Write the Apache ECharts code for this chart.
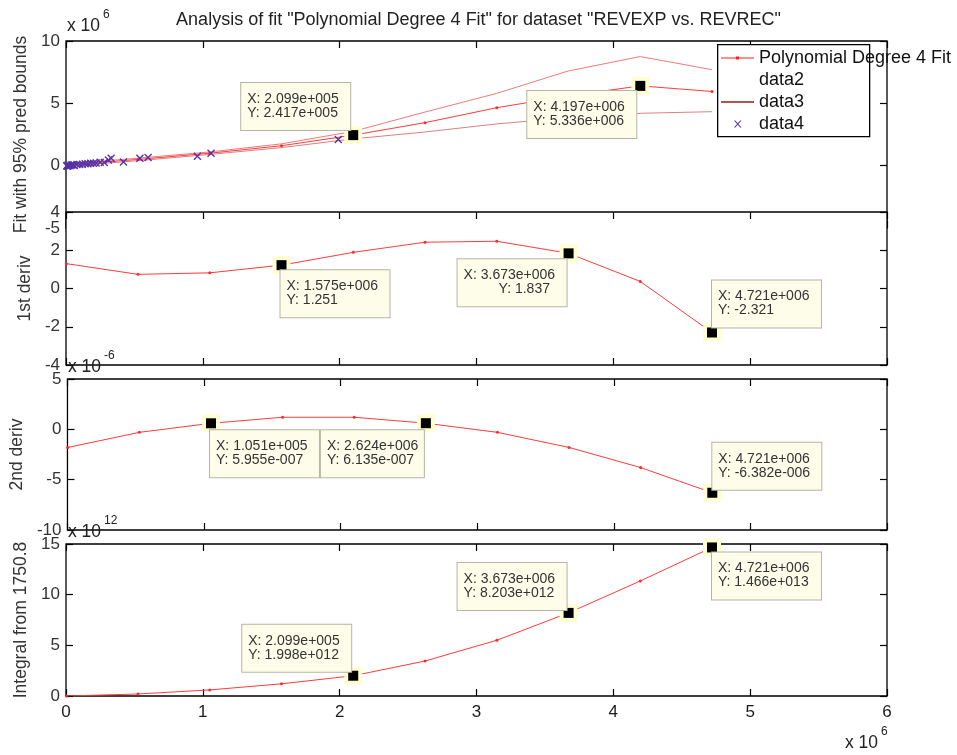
<!DOCTYPE html>
<html><head><meta charset="utf-8">
<script src="https://cdn.jsdelivr.net/npm/echarts@6/dist/echarts.min.js"></script>
<style>html,body{margin:0;padding:0;background:#fff}#c{width:957px;height:755px}</style>
</head><body><div id="c"></div>
<script>
// ---------- data (x in units of 1e6) ----------
const xTicks = [0, 1, 2, 3, 4, 5, 6];
const xEval  = [0.0018, 0.5262, 1.0505, 1.5749, 2.0993, 2.6236, 3.1480, 3.6723, 4.1967, 4.7211];
// panel 1: fit with 95% prediction bounds (units 1e6)
const fitY   = [0.05, 0.50, 1.00, 1.60, 2.45, 3.45, 4.65, 5.60, 6.40, 5.95];
const upperY = [0.15, 0.60, 1.10, 1.75, 2.75, 4.30, 5.80, 7.60, 8.75, 7.70];
const lowerY = [-0.05, 0.40, 0.90, 1.45, 2.15, 2.70, 3.35, 3.85, 4.20, 4.33];
// observed points (data4)
const obsX = [0.005, 0.01, 0.015, 0.02, 0.03, 0.04, 0.05, 0.06, 0.08, 0.10, 0.12, 0.14, 0.16, 0.18, 0.20, 0.22, 0.25, 0.28, 0.31, 0.33, 0.42, 0.54, 0.60, 0.96, 1.06, 1.99];
const obsY = [0.00, -0.05, 0.05, 0.02, 0.00, 0.05, 0.08, 0.02, 0.10, 0.10, 0.12, 0.15, 0.15, 0.20, 0.20, 0.22, 0.28, 0.25, 0.45, 0.60, 0.30, 0.60, 0.65, 0.75, 1.00, 2.10];
// panel 2: 1st derivative
const d1Y = [1.30, 0.74, 0.82, 1.22, 1.89, 2.42, 2.47, 1.84, 0.37, -2.30];
// panel 3: 2nd derivative (units 1e-6)
const d2Y = [-1.80, -0.30, 0.60, 1.20, 1.20, 0.61, -0.30, -1.80, -3.80, -6.30];
// panel 4: integral (units 1e12)
const intY = [0.00, 0.20, 0.60, 1.20, 2.00, 3.45, 5.50, 8.20, 11.35, 14.66];

// data tips
const tip1X = [2.099, 4.197], tip1Y = [2.45, 6.40];
const tip1Text = ['X: 2.099e+005\nY: 2.417e+005', 'X: 4.197e+006\nY: 5.336e+006'];
const tip2X = [1.575, 3.673, 4.721], tip2Y = [1.22, 1.837, -2.30];
const tip2Text = ['X: 1.575e+006\nY: 1.251', 'X: 3.673e+006\n         Y: 1.837', 'X: 4.721e+006\nY: -2.321'];
const tip3X = [1.051, 2.624, 4.721], tip3Y = [0.60, 0.61, -6.30];
const tip3Text = ['X: 1.051e+005\nY: 5.955e-007', 'X: 2.624e+006\nY: 6.135e-007', 'X: 4.721e+006\nY: -6.382e-006'];
const tip4X = [2.099, 3.673, 4.721], tip4Y = [2.00, 8.20, 14.66];
const tip4Text = ['X: 2.099e+005\nY: 1.998e+012', 'X: 3.673e+006\nY: 8.203e+012', 'X: 4.721e+006\nY: 1.466e+013'];

// ---------- styles ----------
const FONT = "'Liberation Sans', Arial, Helvetica, sans-serif";
const tip1Off = [[-112, -52], [-113, 5]];
const tip2Off = [[-1, 5], [-111, 6], [0, -52]];
const tip3Off = [[-1, 7], [-105, 7], [0, -50]];
const tip4Off = [[-111, -51], [-111, -50], [0, 5]];
const tip3W = [99, 93, 99];

const zip = (a, b) => a.map((v, i) => [v, b[i]]);

const grids = [
  { top: 41, height: 187, z: 0 },
  { top: 212, height: 153, z: 10 },
  { top: 379, height: 151, z: 0 },
  { top: 544, height: 152, z: 0 }
].map(g => Object.assign({ left: 66, right: 70, show: true, backgroundColor: '#fff', borderColor: '#000', borderWidth: 1.3 }, g));

const yRanges = [[-5, 10, 5], [-4, 4, 2], [-10, 5, 5], [0, 15, 5]];
const yNames = ['Fit with 95% pred bounds', '1st deriv', '2nd deriv', 'Integral from 1750.8'];

const xAxes = [], yAxes = [];
grids.forEach((g, i) => {
  const az = i === 1 ? 11 : 0;
  ['bottom', 'top'].forEach(pos => {
    xAxes.push({
      gridIndex: i, type: 'value', min: xTicks[0], max: xTicks[xTicks.length - 1], interval: 1, position: pos, z: az,
      axisLine: { show: false, onZero: false }, splitLine: { show: false },
      axisTick: { show: true, inside: true, length: 7, lineStyle: { color: '#000', width: 1.2 } },
      axisLabel: { show: i === 3 && pos === 'bottom', margin: 8, fontSize: 17, color: '#1a1a1a', fontFamily: FONT }
    });
  });
  ['left', 'right'].forEach(pos => {
    const r = yRanges[i];
    yAxes.push({
      gridIndex: i, type: 'value', min: r[0], max: r[1], interval: r[2], position: pos, z: az,
      axisLine: { show: false, onZero: false }, splitLine: { show: false },
      axisTick: { show: true, inside: true, length: 7, lineStyle: { color: '#000', width: 1.2 } },
      axisLabel: { show: pos === 'left', margin: 6, fontSize: 17, color: '#333', fontFamily: FONT },
      name: pos === 'left' ? yNames[i] : '', nameLocation: 'middle', nameGap: 30,
      nameTextStyle: { fontSize: 17.5, color: '#333', fontFamily: FONT }
    });
  });
});

function lineSeries(name, gi, ys, opts) {
  return Object.assign({
    name: name, type: 'line', xAxisIndex: gi * 2, yAxisIndex: gi * 2, data: zip(xEval, ys),
    symbol: 'circle', symbolSize: 3, showSymbol: true, smooth: false,
    lineStyle: { width: 1, color: '#ff3b3b' }, itemStyle: { color: '#ff2a2a' },
    z: gi === 1 ? 12 : 2, silent: true
  }, opts || {});
}

function tipSeries(gi, xs, ys, texts, offs, widths) {
  const base = gi === 1 ? 13 : 5;
  const halo = {
    name: 'halo' + gi, type: 'scatter', xAxisIndex: gi * 2, yAxisIndex: gi * 2,
    data: zip(xs, ys), symbol: 'rect', symbolSize: 18, itemStyle: { color: '#ffffd2', opacity: 1 }, z: base, silent: true
  };
  const mark = {
    name: 'tip' + gi, type: 'scatter', xAxisIndex: gi * 2, yAxisIndex: gi * 2,
    data: zip(xs, ys).map((v, k) => ({
      value: v,
      label: { offset: offs[k], width: widths ? widths[k] : 99 }
    })),
    symbol: 'rect', symbolSize: 10, itemStyle: { color: '#000', opacity: 1 }, z: base + 1, silent: true,
    label: {
      show: true, position: 'inside', align: 'left', verticalAlign: 'top',
      formatter: p => texts[p.dataIndex],
      backgroundColor: '#fdfde9', borderColor: '#b5b5a5', borderWidth: 1,
      padding: [9, 4, 10, 6], height: 28, lineHeight: 14,
      fontSize: 14, color: '#333', fontFamily: FONT
    }
  };
  return [halo, mark];
}

const series = [
  lineSeries('data2', 0, upperY, { showSymbol: false, symbol: 'none', lineStyle: { width: 1, color: '#f27a7a' }, itemStyle: { color: '#f27a7a' } }),
  lineSeries('data3', 0, lowerY, { showSymbol: false, symbol: 'none', lineStyle: { width: 1, color: '#dd8080' }, itemStyle: { color: '#dd8080' } }),
  lineSeries('Polynomial Degree 4 Fit', 0, fitY),
  {
    name: 'data4', type: 'scatter', xAxisIndex: 0, yAxisIndex: 0, data: zip(obsX, obsY),
    symbol: 'path://M0,0L10,10M10,0L0,10', symbolSize: 7,
    itemStyle: { color: 'rgba(0,0,0,0)', borderColor: '#5530a8', borderWidth: 1.3, opacity: 1 }, z: 3, silent: true
  },
  lineSeries('1st deriv', 1, d1Y),
  lineSeries('2nd deriv', 2, d2Y),
  lineSeries('integral', 3, intY)
].concat(
  tipSeries(0, tip1X, tip1Y, tip1Text, tip1Off),
  tipSeries(1, tip2X, tip2Y, tip2Text, tip2Off),
  tipSeries(2, tip3X, tip3Y, tip3Text, tip3Off, tip3W),
  tipSeries(3, tip4X, tip4Y, tip4Text, tip4Off)
);

function mult(x, y, base, sup) {
  return [
    { type: 'text', left: x, top: y, z: 30, style: { text: base, fontSize: 17.5, fill: '#222', fontFamily: FONT } },
    { type: 'text', left: x + 36, top: y - 8, z: 30, style: { text: sup, fontSize: 12, fill: '#222', fontFamily: FONT } }
  ];
}

// legend icons (33 x 10 box, corner anchors keep the scale)
const ANCH = 'M0,0L0.01,0L0,0.01Z M33,10L32.99,10L33,9.99Z ';
const iconFit = 'path://' + ANCH + 'M0,4.4L33,4.4L33,5.6L0,5.6Z M15,3.5L18,3.5L18,6.5L15,6.5Z';
const iconLine = 'path://' + ANCH + 'M0,4.3L33,4.3L33,5.7L0,5.7Z';
const iconX = 'path://' + ANCH + 'M13,1.5L14.3,1.5L20.5,8.5L19.2,8.5Z M19.2,1.5L20.5,1.5L14.3,8.5L13,8.5Z';

const option = {
  animation: false,
  backgroundColor: '#fff',
  title: {
    text: 'Analysis of fit "Polynomial Degree 4 Fit" for dataset "REVEXP vs. REVREC"',
    left: 'center', top: 6,
    textStyle: { fontSize: 18, fontWeight: 'normal', color: '#222', fontFamily: FONT }
  },
  legend: {
    orient: 'vertical', left: 721, top: 49, z: 20, selectedMode: false,
    itemWidth: 33, itemHeight: 10, itemGap: 4, padding: 0,
    textStyle: { fontSize: 18, color: '#111', fontFamily: FONT, lineHeight: 17 },
    data: [
      { name: 'Polynomial Degree 4 Fit', icon: iconFit, itemStyle: { color: '#ff2020' } },
      { name: 'data2', icon: iconLine, itemStyle: { color: '#ffffff', opacity: 0 } },
      { name: 'data3', icon: iconLine, itemStyle: { color: '#a31818' } },
      { name: 'data4', icon: iconX, itemStyle: { color: '#5530a8', borderWidth: 0 } }
    ]
  },
  graphic: [
    { type: 'rect', left: 717, top: 44, z: 15, shape: { width: 152, height: 92 }, style: { fill: '#fff', stroke: '#000', lineWidth: 1.3 } }
  ].concat(
    mult(67, 17, 'x 10', '6'),
    mult(68, 358, 'x 10', '-6'),
    mult(68, 523, 'x 10', '12'),
    mult(845, 734, 'x 10', '6')
  ),
  grid: grids,
  xAxis: xAxes,
  yAxis: yAxes,
  series: series
};

const chart = echarts.init(document.getElementById('c'), null, { renderer: 'canvas' });
chart.setOption(option);
</script></body></html>
